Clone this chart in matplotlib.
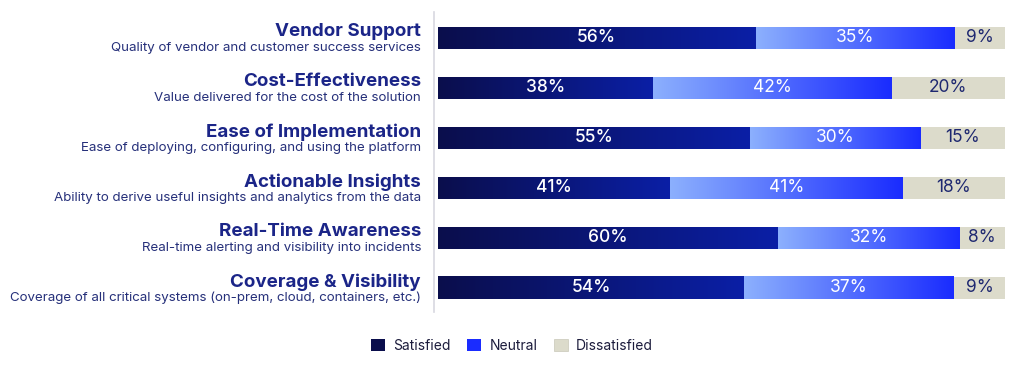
import numpy as np
import matplotlib
matplotlib.use("Agg")
from matplotlib import pyplot as plt, transforms
from matplotlib.colors import LinearSegmentedColormap
from matplotlib.patches import Patch

plt.rcParams['font.family'] = ['Inter', 'DejaVu Sans']

titles = ['Vendor Support', 'Cost-Effectiveness', 'Ease of Implementation',
          'Actionable Insights', 'Real-Time Awareness', 'Coverage & Visibility']
subtitles = ['Quality of vendor and customer success services',
             'Value delivered for the cost of the solution',
             'Ease of deploying, configuring, and using the platform',
             'Ability to derive useful insights and analytics from the data',
             'Real-time alerting and visibility into incidents',
             'Coverage of all critical systems (on-prem, cloud, containers, etc.)']
series = ['Satisfied', 'Neutral', 'Dissatisfied']
satisfied = [56, 38, 55, 41, 60, 54]
neutral = [35, 42, 30, 41, 32, 37]
dissatisfied = [9, 20, 15, 18, 8, 9]

navy = '#1b2588'
grad_sat = LinearSegmentedColormap.from_list('sat', ['#0a0e4c', '#0b1fa6'])
grad_neu = LinearSegmentedColormap.from_list('neu', ['#8cb0fd', '#1a2cff'])
flat_dis = '#dcdbcb'

fig = plt.figure(figsize=(10.24, 3.71), dpi=100)
ax = fig.add_axes([434 / 1024, 1 - 312 / 371, (1005 - 434) / 1024, 300 / 371])

y = np.arange(len(titles))
h = 0.44
ramp = np.linspace(0, 1, 256).reshape(1, -1)

left = np.zeros(len(titles))
for vals, name, style in [(satisfied, 'Satisfied', grad_sat),
                          (neutral, 'Neutral', grad_neu),
                          (dissatisfied, 'Dissatisfied', flat_dis)]:
    bars = ax.barh(y, vals, left=left, height=h, color=flat_dis if name == 'Dissatisfied' else style(0.5),
                   edgecolor='none', zorder=2)
    for b, v in zip(bars, vals):
        x0, x1 = b.get_x(), b.get_x() + b.get_width()
        y0, y1 = b.get_y(), b.get_y() + b.get_height()
        if name != 'Dissatisfied':
            ax.imshow(ramp, cmap=style, extent=(x0, x1, y1, y0), aspect='auto',
                      interpolation='bilinear', zorder=3)
        cx = (x0 + x1) / 2
        if name == 'Satisfied':
            ax.text(cx, b.get_y() + h / 2, f'{v}%', ha='center', va='center',
                    color='white', fontsize=12.5, fontweight='medium', zorder=4)
        elif name == 'Neutral':
            ax.text(cx, b.get_y() + h / 2, f'{v}%', ha='center', va='center',
                    color='white', fontsize=12.5, fontweight='normal', zorder=4)
        else:
            ax.text(cx, b.get_y() + h / 2, f'{v}%', ha='center', va='center',
                    color='#1e2870', fontsize=12.5, zorder=4)
    left = left + np.array(vals)

ax.set_xlim(-0.7, 100)
ax.set_ylim(5.48, -0.52)
ax.set_xticks([])
ax.set_yticks([])
for s in ['top', 'right', 'bottom']:
    ax.spines[s].set_visible(False)
ax.spines['left'].set_color('#d8d8e0')
ax.spines['left'].set_linewidth(1.2)

trans = transforms.blended_transform_factory(ax.transAxes, ax.transData)
off_t = transforms.offset_copy(trans, fig=fig, x=-13, y=6, units='dots')
off_s = transforms.offset_copy(trans, fig=fig, x=-13, y=-10, units='dots')
for i, (t, s) in enumerate(zip(titles, subtitles)):
    ax.text(0, i, t, transform=off_t, ha='right', va='center',
            fontsize=13.5, fontweight='bold', color=navy)
    ax.text(0, i, s, transform=off_s, ha='right', va='center',
            fontsize=9.6, color='#26307a')

handles = [Patch(facecolor='#0a0e4c', edgecolor='none'),
           Patch(facecolor='#1a2cff', edgecolor='none'),
           Patch(facecolor=flat_dis, edgecolor='#c8c8b8', linewidth=0.5)]
fig.legend(handles, series, loc='center', bbox_to_anchor=(512 / 1024, 1 - 346 / 371),
           ncol=3, frameon=False, fontsize=10, handlelength=1.0, handleheight=1.0,
           handletextpad=0.6, columnspacing=1.2, labelcolor='#1c1c3c')

fig.savefig('out.png', dpi=100)
